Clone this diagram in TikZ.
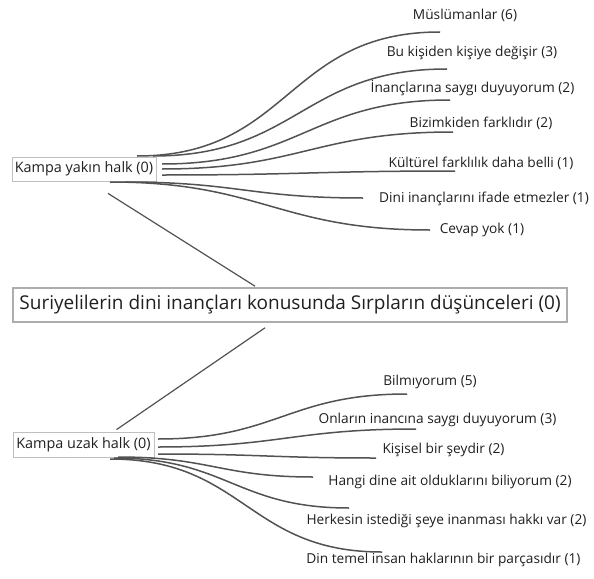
\documentclass[tikz,border=0pt]{standalone}
\usepackage{fontspec}
\setmainfont{Open Sans}
\usetikzlibrary{calc}
\begin{document}
\begin{tikzpicture}[x=1pt,y=-1pt,
  leaf/.style={font=\fontsize{13.7}{16}\selectfont, inner sep=0pt, text=black!88},
  sub/.style={draw=black!25, line width=0.8pt, font=\fontsize{14.4}{16}\selectfont, inner sep=0pt, text=black!88},
  root/.style={draw=black!32, line width=1.6pt, font=\fontsize{19}{22}\selectfont, inner sep=0pt, text=black!88},
  branch/.style={draw=black!68, line width=1.5pt},
  link/.style={draw=black!68, line width=1.2pt},
  sc/.style={out=0,in=180,looseness=1.2}]
\useasboundingbox (0,0) rectangle (594,578);

% main nodes
\node[root, minimum width=554pt, minimum height=34pt] (root) at (290,305) {Suriyelilerin dini inançları konusunda Sırpların düşünceleri (0)};
\node[sub, minimum width=144pt, minimum height=24pt] (yakin) at (84,169) {Kampa yakın halk (0)};
\node[sub, minimum width=141pt, minimum height=25pt] (uzak) at (83.5,444.5) {Kampa uzak halk (0)};

% links to root
\draw[link] ($(yakin.south)+(24,12)$) -- ($(root.north)+(-35,-1)$);
\draw[link] ($(uzak.north)+(33,-2)$) -- ($(root.south)+(-25,5)$);

% top leaves
\node[leaf] (a1) at (465,15) {Müslümanlar (6)};
\node[leaf] (a2) at (472,53) {Bu kişiden kişiye değişir (3)};
\node[leaf] (a3) at (472.5,88) {İnançlarına saygı duyuyorum (2)};
\node[leaf] (a4) at (481,123) {Bizimkiden farklıdır (2)};
\node[leaf] (a5) at (481,163) {Kültürel farklılık daha belli (1)};
\node[leaf] (a6) at (484,199) {Dini inançlarını ifade etmezler (1)};
\node[leaf] (a7) at (482,230) {Cevap yok (1)};

% bottom leaves
\node[leaf] (b1) at (430,382) {Bilmıyorum (5)};
\node[leaf] (b2) at (437.5,420) {Onların inancına saygı duyuyorum (3)};
\node[leaf] (b3) at (443.5,450) {Kişisel bir şeydir (2)};
\node[leaf] (b4) at (450,482) {Hangi dine ait olduklarını biliyorum (2)};
\node[leaf] (b5) at (446.5,521) {Herkesin istediği şeye inanması hakkı var (2)};
\node[leaf] (b6) at (443.5,560) {Din temel insan haklarının bir parçasıdır (1)};

% start points
\coordinate (ys1) at (137,156);
\coordinate (ys2) at (153,156);
\coordinate (ys3) at (162,164);
\coordinate (ys4) at (162,169);
\coordinate (ys5) at (162,175);
\coordinate (ys6) at (125,182);
\coordinate (ys7) at (110,182);
\coordinate (us1) at (158,439);
\coordinate (us2) at (158,447);
\coordinate (us3) at (158,454);
\coordinate (us4) at (118,457);
\coordinate (us5) at (114,458);
\coordinate (us6) at (110,459);
% end points
\coordinate (ye1) at (440,32);
\coordinate (ye2) at (447,69);
\coordinate (ye3) at (450,100);
\coordinate (ye4) at (453,132);
\coordinate (ye5) at (455,171);
\coordinate (ye6) at (363,198);
\coordinate (ye7) at (430,230);
\coordinate (ue1) at (407,394);
\coordinate (ue2) at (416,429);
\coordinate (ue3) at (376,458);
\coordinate (ue4) at (313,477);
\coordinate (ue5) at (349,508);
\coordinate (ue6) at (382,552);

\foreach \i in {1,...,7} \draw[branch] (ys\i) to[sc] (ye\i);
\foreach \i in {1,...,6} \draw[branch] (us\i) to[sc] (ue\i);
\end{tikzpicture}
\end{document}
